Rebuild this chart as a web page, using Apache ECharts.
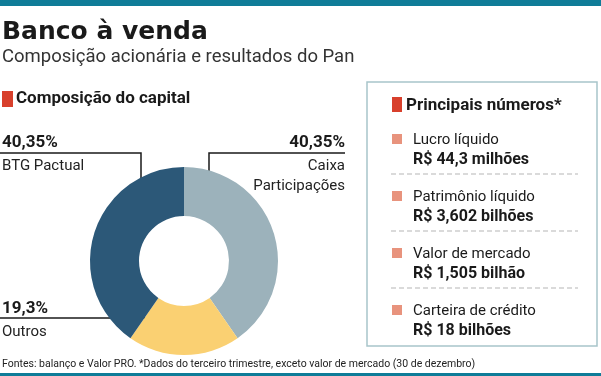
<!DOCTYPE html>
<html>
<head>
<meta charset="utf-8">
<script src="https://cdn.jsdelivr.net/npm/echarts@6/dist/echarts.min.js"></script>
<style>
  html, body { margin: 0; padding: 0; background: #fff; }
  #chart { width: 601px; height: 376px; }
</style>
</head>
<body>
<div id="chart"></div>
<script>
// shareholders, clockwise from 12 o'clock
const holders = ['Caixa\nParticipações', 'Outros', 'BTG Pactual']
const shares = [40.35, 19.3, 40.35]
const holderColors = ['#9cb2bb', '#fad072', '#2c5878']

// right panel
const infoLabels = ['Lucro líquido', 'Patrimônio líquido', 'Valor de mercado', 'Carteira de crédito']
const infoValues = ['R$ 44,3 milhões', 'R$ 3,602 bilhões', 'R$ 1,505 bilhão', 'R$ 18 bilhões']

const teal = '#0f7c98'
const ink = '#1a1a1a'
const sans = 'Roboto, sans-serif'

// label placement per slice (x, y, align, leader line)
const labelSpots = [
  { x: 345, y: 130, align: 'right', pts: [[209, 191], [209, 153], [345, 153]] },
  { x: 2, y: 296, align: 'left', pts: [[181, 318], [90, 318], [0, 318]] },
  { x: 2, y: 130, align: 'left', pts: [[141, 187], [141, 153], [0, 153]] }
]

const chart = echarts.init(document.getElementById('chart'))

const text = (x, y, str, font, color, align) => ({
  type: 'text', x, y, silent: true,
  style: { text: str, font, fill: color || ink, align: align || 'left', verticalAlign: 'middle' }
})

const graphics = [
  { type: 'rect', shape: { x: 0, y: 0, width: 601, height: 6 }, style: { fill: teal } },
  { type: 'rect', shape: { x: 0, y: 373, width: 601, height: 3 }, style: { fill: teal } },
  text(2, 32, 'Banco à venda', 'bold 25px "DejaVu Sans"'),
  text(2, 57, 'Composição acionária e resultados do Pan', '18.5px ' + sans, '#333'),
  { type: 'rect', shape: { x: 2, y: 91, width: 11, height: 16 }, style: { fill: '#d8402c' } },
  text(16, 99, 'Composição do capital', 'bold 17px ' + sans),
  { type: 'rect', shape: { x: 367, y: 82, width: 230, height: 264 }, style: { fill: 'none', stroke: '#a8c5ca', lineWidth: 1.5 } },
  { type: 'rect', shape: { x: 392, y: 97, width: 10, height: 15 }, style: { fill: '#d8402c' } },
  text(406, 106, 'Principais números*', 'bold 17px ' + sans),
  text(2, 364, 'Fontes: balanço e Valor PRO. *Dados do terceiro trimestre, exceto valor de mercado (30 de dezembro)', '10.5px ' + sans, '#222')
]

infoLabels.forEach((lab, i) => {
  const y0 = 134 + i * 57
  graphics.push({ type: 'rect', shape: { x: 392, y: y0, width: 10, height: 10 }, style: { fill: '#e8937d' } })
  graphics.push(text(413, y0 + 6.5, lab, '15px ' + sans))
  graphics.push(text(413, y0 + 25.5, infoValues[i], 'bold 16px ' + sans))
  if (i < infoLabels.length - 1) {
    graphics.push({
      type: 'line', shape: { x1: 391, y1: y0 + 40, x2: 578, y2: y0 + 40 },
      style: { stroke: '#b5b5b5', lineWidth: 1, lineDash: [5, 3] }
    })
  }
})

const option = {
  animation: false,
  graphic: graphics,
  series: [{
    type: 'pie',
    center: [184, 261],
    radius: [45, 94],
    startAngle: 90,
    clockwise: true,
    silent: true,
    data: shares.map((v, i) => ({
      name: holders[i],
      value: v,
      itemStyle: { color: holderColors[i] },
      label: { align: labelSpots[i].align }
    })),
    label: {
      show: true,
      overflow: 'none',
      width: 200,
      formatter: p => {
        const pct = '{p|' + String(p.value).replace('.', ',') + '%}'
        return [pct].concat(p.name.split('\n').map(s => '{n|' + s + '}')).join('\n')
      },
      rich: {
        p: { fontFamily: sans, fontWeight: 'bold', fontSize: 17, lineHeight: 26, color: ink },
        n: { fontFamily: sans, fontSize: 15, lineHeight: 20, color: '#222' }
      }
    },
    labelLine: { show: true, lineStyle: { color: ink, width: 1.5 } },
    labelLayout: p => {
      const s = labelSpots[p.dataIndex]
      return { x: s.x, y: s.y, align: s.align, verticalAlign: 'top', labelLinePoints: s.pts }
    }
  }]
}

chart.setOption(option)
</script>
</body>
</html>
